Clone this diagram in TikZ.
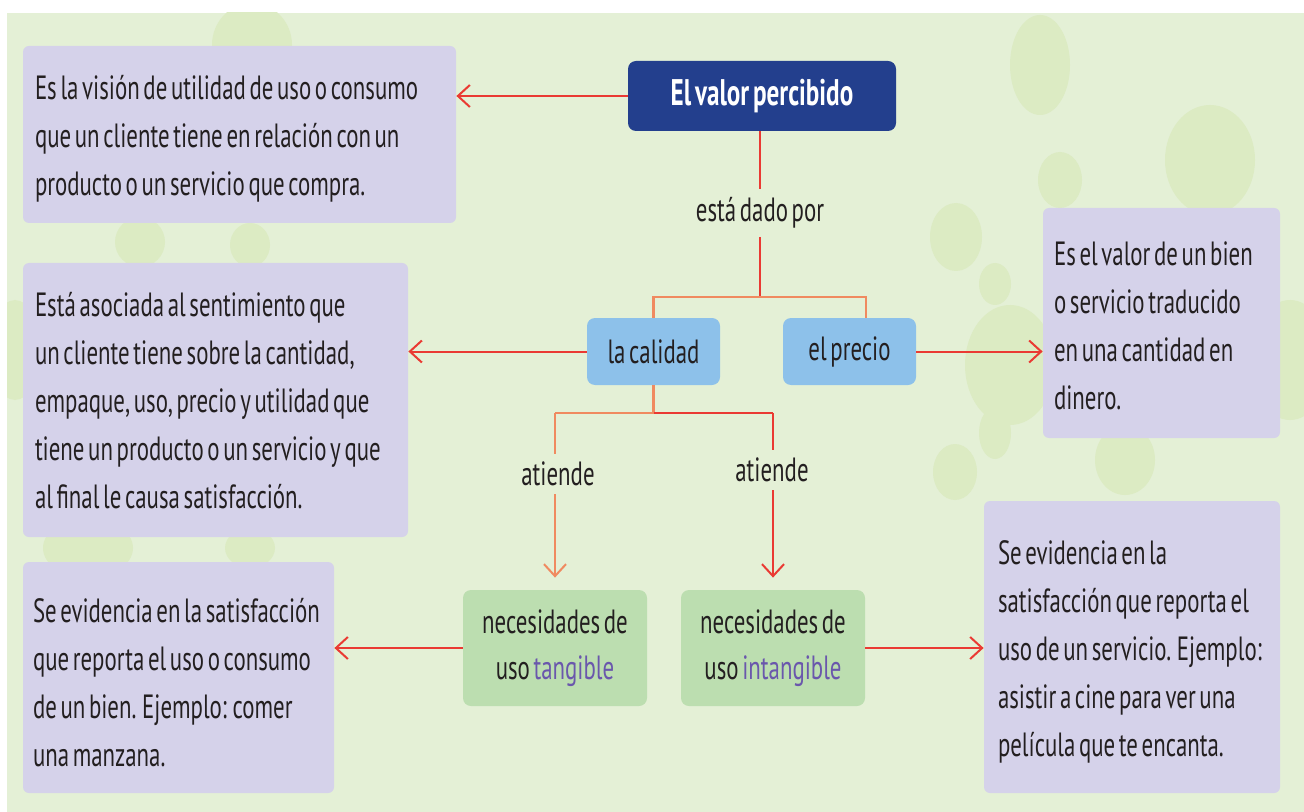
\documentclass[tikz,border=0pt]{standalone}
\usepackage{fontspec}
\setmainfont{PT Sans}[FakeStretch=0.68, WordSpace=0.6]
\usetikzlibrary{arrows.meta}
\definecolor{bgc}{HTML}{E4F0D6}
\definecolor{dotc}{HTML}{DCEBC3}
\definecolor{lav}{HTML}{D5D2EA}
\definecolor{navy}{HTML}{233F8D}
\definecolor{lblue}{HTML}{8DC1EA}
\definecolor{lgreen}{HTML}{BCDEB0}
\definecolor{lnred}{HTML}{EA3A33}
\definecolor{lnorange}{HTML}{F08A60}
\definecolor{purp}{HTML}{6A57AC}
\definecolor{ink}{HTML}{231F20}
\tikzset{
  every node/.style={text=ink},
  descbox/.style={fill=lav, rounded corners=3pt, inner sep=0pt},
  desctext/.style={anchor=west, align=left, inner sep=0pt, font=\fontsize{16.8}{24}\selectfont},
  pill/.style={fill=lblue, rounded corners=4pt, inner sep=0pt, font=\fontsize{16.8}{24}\selectfont},
  need/.style={fill=lgreen, rounded corners=4pt, inner sep=0pt, align=center, font=\fontsize{16.8}{23}\selectfont},
  lbl/.style={inner xsep=2pt, inner ysep=4pt, font=\fontsize{16.8}{24}\selectfont},
  arr/.style={draw=lnred, line width=1pt, -{Straight Barb[length=6pt,width=11pt,line width=1pt]}},
  ln/.style={draw=lnred, line width=1pt},
  lno/.style={draw=lnorange, line width=1.2pt},
  dot/.style={fill=dotc}
}
\begin{document}
\begin{tikzpicture}[x=0.5pt,y=-0.5pt]
\useasboundingbox (0,0) rectangle (1304,812);
\fill[bgc] (7,13) rectangle (1304,812);
% decorative background circles
\begin{scope}
\clip (7,13) rectangle (1304,812);
\fill[dot] (252,45) ellipse [x radius=40, y radius=42];
\fill[dot] (1040,65) ellipse [x radius=30, y radius=50];
\fill[dot] (1210,160) ellipse [x radius=45, y radius=55];
\fill[dot] (1060,180) ellipse [x radius=22, y radius=28];
\fill[dot] (956,237) ellipse [x radius=26, y radius=34];
\fill[dot] (995,284) ellipse [x radius=16, y radius=21];
\fill[dot] (1290,360) ellipse [x radius=40, y radius=60];
\fill[dot] (1010,365) ellipse [x radius=45, y radius=60];
\fill[dot] (995,433) ellipse [x radius=16, y radius=26];
\fill[dot] (15,350) ellipse [x radius=25, y radius=50];
\fill[dot] (88,548) ellipse [x radius=45, y radius=30];
\fill[dot] (250,548) ellipse [x radius=25, y radius=20];
\fill[dot] (140,242) ellipse [x radius=25, y radius=25];
\fill[dot] (250,245) ellipse [x radius=20, y radius=22];
\fill[dot] (1125,460) ellipse [x radius=30, y radius=35];
\fill[dot] (955,472) ellipse [x radius=22, y radius=28];
\end{scope}

% main nodes
\node[fill=navy, rounded corners=4pt, inner sep=0pt, minimum width=134pt, minimum height=35pt,
  text=white, font=\fontsize{18.5}{24}\selectfont\bfseries] (title) at (762,96) {El valor percibido};

\node[pill, minimum width=66.5pt, minimum height=33.5pt] (calidad) at (653.5,351.5) {la calidad};
\node[pill, minimum width=66.5pt, minimum height=33.5pt] (precio) at (849.5,351.5) {el precio};

\node[need, minimum width=92pt, minimum height=58pt] (tang) at (555,648)
 {necesidades de\\ uso \textcolor{purp}{tangible}};
\node[need, minimum width=92pt, minimum height=58pt] (intang) at (773,648)
 {necesidades de\\ uso \textcolor{purp}{intangible}};

% description boxes
\node[descbox, minimum width=216.5pt, minimum height=88.5pt] (boxA) at (239.5,134.5) {};
\node[desctext] (tA) at ([xshift=6pt,yshift=-2pt]boxA.west)
 {Es la visión de utilidad de uso o consumo\\ que un cliente tiene en relación con un\\ producto o un servicio que compra.};

\node[descbox, minimum width=192.5pt, minimum height=137pt] (boxB) at (215.5,400) {};
\node[desctext] (tB) at ([xshift=6pt,yshift=-0.5pt]boxB.west)
 {Está asociada al sentimiento que\\ un cliente tiene sobre la cantidad,\\ empaque, uso, precio y utilidad que\\ tiene un producto o un servicio y que\\ al final le causa satisfacción.};

\node[descbox, minimum width=118.5pt, minimum height=115pt] (boxC) at (1161.5,323) {};
\node[desctext] (tC) at ([xshift=5.5pt,yshift=-1.5pt]boxC.west)
 {Es el valor de un bien\\ o servicio traducido\\ en una cantidad en\\ dinero.};

\node[descbox, minimum width=155.5pt, minimum height=115.5pt] (boxD) at (178.5,677.5) {};
\node[desctext] (tD) at ([xshift=5pt,yshift=-2.5pt]boxD.west)
 {Se evidencia en la satisfacción\\ que reporta el uso o consumo\\ de un bien. Ejemplo: comer\\ una manzana.};

\node[descbox, minimum width=148pt, minimum height=146pt] (boxE) at (1132,647) {};
\node[desctext] (tE) at ([xshift=7pt,yshift=-2.5pt]boxE.west)
 {Se evidencia en la\\ satisfacción que reporta el\\ uso de un servicio. Ejemplo:\\ asistir a cine para ver una\\ película que te encanta.};

% labels
\node[lbl] (dado) at (760,213) {está dado por};
\node[lbl] (at1) at (558,474) {atiende};
\node[lbl] (at2) at (772,470) {atiende};

% fork points
\coordinate (f1) at (760,297);
\coordinate (f1r) at (866,297);
\coordinate (f2) at (653.5,413);

% connectors
\draw[arr] (title.west) -- (title.west -| boxA.east);
\draw[ln] (title.south -| dado.north) -- (dado.north);
\draw[ln] (dado.south) -- (f1);
\draw[lno] (calidad.north) |- (f1r) -- (f1r |- precio.north);

\draw[arr] (calidad.west) -- (calidad.west -| boxB.east);
\draw[arr] (precio.east) -- (precio.east -| boxC.west);

\draw[lno] (calidad.south) -- (f2);
\draw[lno] (tang.north |- f2) -- (f2);
\draw[ln] (f2) -- (intang.north |- f2);
\draw[lno] (tang.north |- f2) -- (at1.north -| tang.north);
\draw[ln] (intang.north |- f2) -- (at2.north -| intang.north);
\draw[arr, draw=lnorange, shorten >=6pt] (at1.south -| tang.north) -- (tang.north);
\draw[arr, shorten >=6pt] (at2.south -| intang.north) -- (intang.north);

\draw[arr] (tang.west) -- (tang.west -| boxD.east);
\draw[arr] (intang.east) -- (intang.east -| boxE.west);
\end{tikzpicture}
\end{document}
